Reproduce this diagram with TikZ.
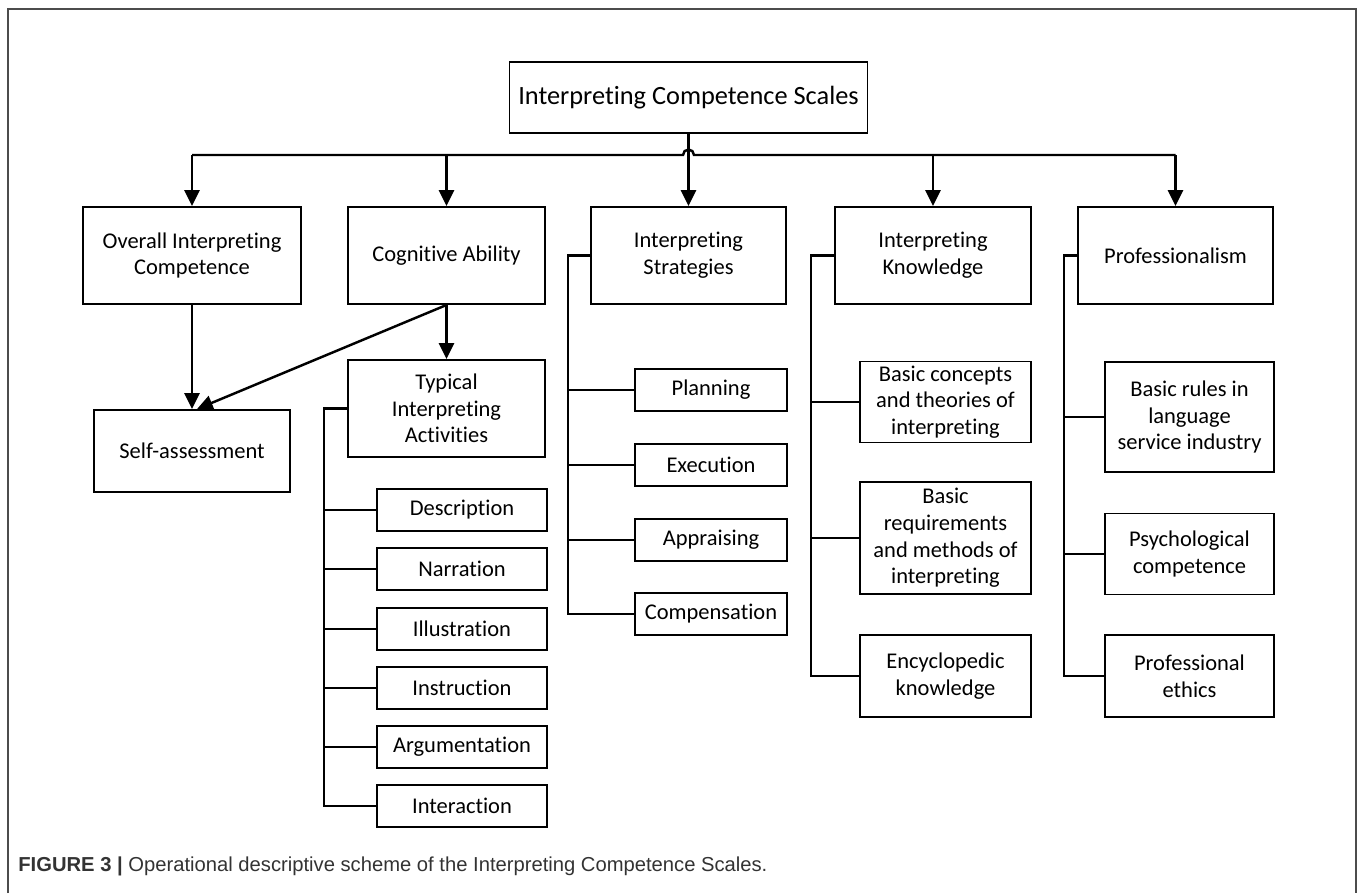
\documentclass[tikz,border=0pt]{standalone}
\usepackage{fontspec}
\setmainfont{Carlito}[Ligatures=NoCommon]
\newfontfamily\capfont{Liberation Sans}
\usetikzlibrary{arrows.meta}

\tikzset{
  box/.style={draw, line width=1.1pt, align=center, inner sep=0pt,
    font=\fontsize{12.8}{15.2}\selectfont},
  wh/.style 2 args={minimum width={#1*0.02cm}, minimum height={#2*0.02cm}},
  conn/.style={line width=1.4pt},
  arr/.style={conn, -{Triangle[length=9pt,width=8.5pt]}},
  frame/.style={line width=0.8pt, gray!60!black}
}

\begin{document}
\begin{tikzpicture}[x=0.02cm, y=-0.02cm]
  \useasboundingbox (0,0) rectangle (1358,893);
  \draw[frame] (8,893) -- (8,9) -- (1356,9) -- (1356,893);

  \node[box, wh={358}{71}, font=\fontsize{15}{18}\selectfont] (title) at (688.5,97.5) {Interpreting Competence Scales};

  \node[box, wh={218}{97}] (overall) at (192,255.5) {Overall Interpreting\\Competence};
  \node[box, wh={197}{97}] (cognitive) at (446.5,255.5) {Cognitive Ability};
  \node[box, wh={195}{97}] (strategies) at (688.5,255.5) {Interpreting\\Strategies};
  \node[box, wh={196}{97}] (knowledge) at (933,255.5) {Interpreting\\Knowledge};
  \node[box, wh={195}{97}] (prof) at (1175.5,255.5) {Professionalism};

  \node[box, wh={196}{82}] (selfa) at (192,451) {Self-assessment};
  \node[box, wh={197}{97}] (tia) at (446.5,408.5) {Typical\\Interpreting\\Activities};

  \node[box, wh={170}{42}] (description) at (462,510) {Description};
  \node[box, wh={170}{42}] (narration) at (462,569) {Narration};
  \node[box, wh={170}{42}] (illustration) at (462,629) {Illustration};
  \node[box, wh={170}{42}] (instruction) at (462,688) {Instruction};
  \node[box, wh={170}{42}] (argumentation) at (462,747) {Argumentation};
  \node[box, wh={170}{42}] (interaction) at (462,806) {Interaction};

  \node[box, wh={152}{42}] (planning) at (711,390) {Planning};
  \node[box, wh={152}{42}] (execution) at (711,465) {Execution};
  \node[box, wh={152}{42}] (appraising) at (711,540) {Appraising};
  \node[box, wh={152}{42}] (compensation) at (711,614) {Compensation};

  \node[box, wh={171}{81}] (concepts) at (945.5,402) {Basic concepts\\and theories of\\interpreting};
  \node[box, wh={171}{112}] (requirements) at (945.5,538) {Basic\\requirements\\and methods of\\interpreting};
  \node[box, wh={171}{82}] (encyclopedic) at (945.5,676) {Encyclopedic\\knowledge};

  \node[box, wh={169}{110}] (rules) at (1189.5,417) {Basic rules in\\language\\service industry};
  \node[box, wh={169}{81}] (psych) at (1189.5,554) {Psychological\\competence};
  \node[box, wh={169}{82}] (ethics) at (1189.5,676) {Professional\\ethics};

  \coordinate (bus) at (688.5,155);
  \coordinate (tiabar) at (324,0);
  \coordinate (stratbar) at (568,0);
  \coordinate (knowbar) at (811,0);
  \coordinate (profbar) at (1064,0);

  \draw[conn] (overall.north |- bus) -- ([xshift=-0.11cm]bus)
    arc[start angle=180, end angle=0, radius=0.11cm] -- (prof.north |- bus);
  \draw[arr] (title) -- (strategies);
  \foreach \n in {overall,cognitive,knowledge,prof}
    \draw[arr] (\n.north |- bus) -- (\n.north);

  \draw[arr] (overall) -- (selfa);
  \draw[arr] (cognitive.south) -- ([xshift=0.1cm]selfa.north);
  \draw[arr] (cognitive) -- (tia);

  \draw[conn] (tia.west) -| (tiabar |- interaction.west) -- (interaction.west);
  \foreach \n in {description,narration,illustration,instruction,argumentation}
    \draw[conn] (\n.west) -- (\n.west -| tiabar);

  \draw[conn] (strategies.west) -| (stratbar |- compensation.west) -- (compensation.west);
  \foreach \n in {planning,execution,appraising}
    \draw[conn] (\n.west) -- (\n.west -| stratbar);

  \draw[conn] (knowledge.west) -| (knowbar |- encyclopedic.west) -- (encyclopedic.west);
  \foreach \n in {concepts,requirements}
    \draw[conn] (\n.west) -- (\n.west -| knowbar);

  \draw[conn] (prof.west) -| (profbar |- ethics.west) -- (ethics.west);
  \foreach \n in {rules,psych}
    \draw[conn] (\n.west) -- (\n.west -| profbar);

  \node[anchor=base west, inner sep=0pt, font=\capfont\fontsize{11.5}{13}\selectfont, text=black!80]
    (caption) at (18,871) {\textbf{FIGURE 3 |} Operational descriptive scheme of the Interpreting Competence Scales.};
\end{tikzpicture}
\end{document}
